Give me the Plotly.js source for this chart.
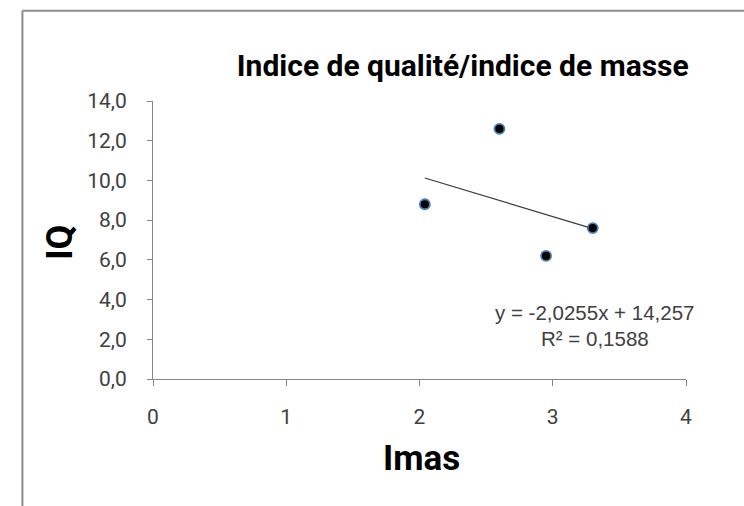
<!DOCTYPE html>
<html>
<head>
<meta charset="utf-8">
<script src="https://cdn.plot.ly/plotly-3.0.1.min.js"></script>
<style>
html,body{margin:0;padding:0;background:#fff;}
#chart{width:744px;height:506px;}
</style>
</head>
<body>
<div id="chart"></div>
<script>
const imas = [2.04, 2.60, 2.95, 3.30];
const iq = [8.8, 12.6, 6.2, 7.6];
const slope = -2.0255;
const intercept = 14.257;
const r2Label = "R² = 0,1588";
const eqLabel = "y = -2,0255x + 14,257";
const xTicks = [0, 1, 2, 3, 4];
const yTicks = [0, 2, 4, 6, 8, 10, 12, 14];

const trendX = [Math.min(...imas), Math.max(...imas)];
const trendY = trendX.map(x => slope * x + intercept);

const mainFont = "Roboto, 'Open Sans', sans-serif";
const tickFont = {family: mainFont, size: 21, color: '#404040'};

const data = [
  {x: trendX, y: trendY, type: 'scatter', mode: 'lines',
   line: {color: '#3a3a3a', width: 1.2}, hoverinfo: 'skip', showlegend: false},
  {x: imas, y: iq, type: 'scatter', mode: 'markers',
   marker: {color: '#000000', size: 10, line: {color: '#4a7ebb', width: 1.8}}, showlegend: false}
];

const layout = {
  width: 744, height: 506,
  margin: {l: 153, r: 58, t: 101, b: 127},
  paper_bgcolor: '#ffffff', plot_bgcolor: '#ffffff',
  separators: ',.',
  showlegend: false,
  title: {text: 'Indice de qualité/indice de masse', x: 0.622, xanchor: 'center', y: 0.87, yanchor: 'middle',
          font: {family: mainFont, size: 30, color: '#000', weight: 'bold'}},
  xaxis: {range: [0, 4], tickvals: xTicks, tickformat: 'd', showgrid: false, zeroline: false,
          showline: true, linecolor: '#868686', linewidth: 1, ticks: 'outside', ticklen: 6, tickcolor: '#868686',
          ticklabelstandoff: 13, tickfont: tickFont},
  yaxis: {range: [0, 14], tickvals: yTicks, tickformat: '.1f', showgrid: false, zeroline: false,
          showline: true, linecolor: '#868686', linewidth: 1, ticks: 'outside', ticklen: 5, tickcolor: '#868686',
          ticklabelstandoff: 16, tickfont: tickFont},
  annotations: [
    {x: 0.5, y: 458, xref: 'paper', yref: 'paper', text: 'Imas', showarrow: false,
     xanchor: 'center', yanchor: 'middle',
     font: {family: mainFont, size: 35, color: '#000', weight: 'bold'}},
    {x: 60, y: 243, xref: 'paper', yref: 'paper', text: 'IQ', showarrow: false, textangle: -90,
     xanchor: 'center', yanchor: 'middle',
     font: {family: mainFont, size: 36, color: '#000', weight: 'bold'}},
    {x: 3.317, y: 3.37, xref: 'x', yref: 'y', text: eqLabel, showarrow: false, xanchor: 'center', yanchor: 'middle',
     font: {family: "'Liberation Sans', Arial, sans-serif", size: 20.5, color: '#404040'}},
    {x: 3.317, y: 2.06, xref: 'x', yref: 'y', text: r2Label, showarrow: false, xanchor: 'center', yanchor: 'middle',
     font: {family: "'Liberation Sans', Arial, sans-serif", size: 20.5, color: '#404040'}}
  ],
  shapes: [
    {type: 'line', xref: 'paper', yref: 'paper', x0: -0.245, x1: 1.11, y0: 1.325, y1: 1.325,
     line: {color: '#8c8c8c', width: 2}},
    {type: 'line', xref: 'paper', yref: 'paper', x0: -0.245, x1: -0.245, y0: 1.325, y1: -0.48,
     line: {color: '#8c8c8c', width: 2}}
  ]
};

// convert pixel positions of axis-title annotations to paper coords
const pw = 744 - layout.margin.l - layout.margin.r;
const ph = 506 - layout.margin.t - layout.margin.b;
function px2paper(px, py) { return [(px - layout.margin.l) / pw, (506 - layout.margin.b - py) / ph]; }
[[0, 421, 458], [1, 60, 243]].forEach(([i, px, py]) => {
  const p = px2paper(px, py);
  layout.annotations[i].x = p[0];
  layout.annotations[i].y = p[1];
});

Plotly.newPlot('chart', data, layout, {displayModeBar: false, staticPlot: true});
</script>
</body>
</html>
